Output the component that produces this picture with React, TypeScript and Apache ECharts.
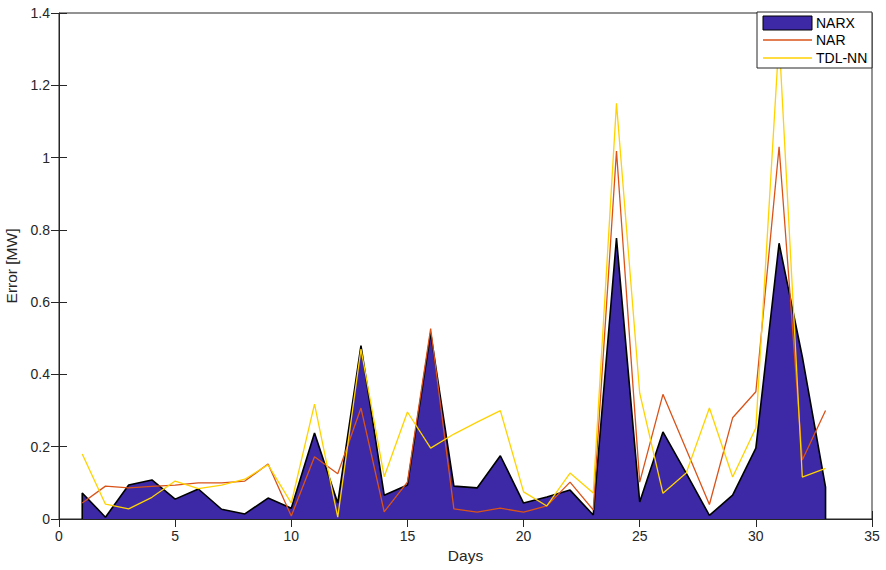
import React, { useEffect, useRef } from "react";
import * as echarts from "echarts";

const days = [1, 2, 3, 4, 5, 6, 7, 8, 9, 10, 11, 12, 13, 14, 15, 16, 17, 18, 19, 20, 21, 22, 23, 24, 25, 26, 27, 28, 29, 30, 31, 32, 33];
const narx = [0.072, 0.005, 0.094, 0.108, 0.055, 0.083, 0.027, 0.014, 0.058, 0.03, 0.238, 0.044, 0.48, 0.066, 0.094, 0.515, 0.091, 0.086, 0.175, 0.044, 0.061, 0.08, 0.011, 0.777, 0.047, 0.241, 0.127, 0.01, 0.066, 0.196, 0.763, 0.449, 0.088];
const nar = [0.044, 0.091, 0.086, 0.09, 0.094, 0.1, 0.1, 0.105, 0.152, 0.008, 0.172, 0.125, 0.307, 0.02, 0.102, 0.527, 0.028, 0.019, 0.03, 0.019, 0.036, 0.102, 0.025, 1.018, 0.102, 0.345, 0.193, 0.04, 0.28, 0.352, 1.03, 0.163, 0.3];
const tdl = [0.18, 0.041, 0.028, 0.06, 0.105, 0.084, 0.094, 0.11, 0.15, 0.044, 0.318, 0.005, 0.47, 0.117, 0.296, 0.196, 0.235, 0.268, 0.3, 0.075, 0.036, 0.127, 0.072, 1.15, 0.348, 0.071, 0.127, 0.307, 0.116, 0.252, 1.33, 0.116, 0.14];
const seriesNames = ["NARX", "NAR", "TDL-NN"];
const xLabel = "Days";
const yLabel = "Error [MW]";

const COLORS = { narx: "#3D28A5", nar: "#D95319", tdl: "#FFD200" };
const FONT = "Liberation Sans, Arial, Helvetica, sans-serif";
const TXT = "#262626";

export default function App() {
  const ref = useRef<HTMLDivElement>(null);
  useEffect(() => {
    if (!ref.current) return;
    const chart = echarts.init(ref.current, undefined, { renderer: "svg" });
    const pairs = (ys: number[]) => days.map((d, i) => [d, ys[i]]);
    const narxOutline = [[days[0], 0], ...pairs(narx), [days[days.length - 1], 0]];
    const tickStyle = { show: true, inside: true, length: 8, lineStyle: { color: TXT, width: 1 } };
    const lx = 757, ly = 12;
    const Z = 100;
    chart.setOption({
      animation: false,
      grid: {
        left: 59, right: 14, top: 13, bottom: 51, show: true, borderColor: TXT, borderWidth: 1,
        backgroundColor: "transparent", containLabel: false, outerBoundsMode: "none",
      },
      xAxis: [
        {
          type: "value", min: 0, max: 35, interval: 5, position: "bottom",
          name: xLabel, nameLocation: "middle", nameGap: 28,
          nameTextStyle: { fontFamily: FONT, fontSize: 15.5, color: TXT },
          axisLine: { show: true, lineStyle: { color: TXT } },
          axisTick: tickStyle,
          axisLabel: { fontFamily: FONT, fontSize: 14, color: TXT, margin: 10 },
          splitLine: { show: false },
        },
        {
          type: "value", min: 0, max: 35, interval: 5, position: "top",
          axisLine: { show: false }, axisTick: tickStyle, axisLabel: { show: false }, splitLine: { show: false },
        },
      ],
      yAxis: [
        {
          type: "value", min: 0, max: 1.4, interval: 0.2, position: "left",
          name: yLabel, nameLocation: "middle", nameGap: 34,
          nameTextStyle: { fontFamily: FONT, fontSize: 15.5, color: TXT },
          axisLine: { show: true, lineStyle: { color: TXT } },
          axisTick: tickStyle,
          axisLabel: { fontFamily: FONT, fontSize: 14, color: TXT, margin: 9 },
          splitLine: { show: false },
        },
        {
          type: "value", min: 0, max: 1.4, interval: 0.2, position: "right",
          axisLine: { show: false }, axisTick: tickStyle, axisLabel: { show: false }, splitLine: { show: false },
        },
      ],
      series: [
        {
          name: seriesNames[0], type: "line", xAxisIndex: 0, yAxisIndex: 0, data: narxOutline, symbol: "none",
          lineStyle: { color: "#000", width: 1.6 }, areaStyle: { color: COLORS.narx, opacity: 1 }, z: 2,
        },
        {
          name: seriesNames[1], type: "line", xAxisIndex: 0, yAxisIndex: 0, data: pairs(nar), symbol: "none",
          lineStyle: { color: COLORS.nar, width: 1.3 }, z: 3,
        },
        {
          name: seriesNames[2], type: "line", xAxisIndex: 0, yAxisIndex: 0, data: pairs(tdl), symbol: "none",
          lineStyle: { color: COLORS.tdl, width: 1.3 }, z: 4,
        },
      ],
      graphic: [
        { type: "rect", z: Z, shape: { x: lx, y: ly, width: 115, height: 56 }, style: { fill: "#fff", stroke: TXT, lineWidth: 1 } },
        { type: "rect", z: Z + 1, shape: { x: lx + 6, y: ly + 4, width: 49, height: 14 }, style: { fill: COLORS.narx, stroke: "#000", lineWidth: 1 } },
        { type: "line", z: Z + 1, shape: { x1: lx + 6, y1: ly + 28, x2: lx + 55, y2: ly + 28 }, style: { stroke: COLORS.nar, lineWidth: 1.3 } },
        { type: "line", z: Z + 1, shape: { x1: lx + 6, y1: ly + 46, x2: lx + 55, y2: ly + 46 }, style: { stroke: COLORS.tdl, lineWidth: 1.3 } },
        { type: "text", z: Z + 1, x: lx + 59, y: ly + 11, style: { text: seriesNames[0], fill: "#000", font: `14px ${FONT}`, verticalAlign: "middle" } },
        { type: "text", z: Z + 1, x: lx + 59, y: ly + 28, style: { text: seriesNames[1], fill: "#000", font: `14px ${FONT}`, verticalAlign: "middle" } },
        { type: "text", z: Z + 1, x: lx + 59, y: ly + 46, style: { text: seriesNames[2], fill: "#000", font: `14px ${FONT}`, verticalAlign: "middle" } },
      ],
    });
    return () => chart.dispose();
  }, []);
  return <div ref={ref} style={{ position: "absolute", left: 0, top: 0, width: 886, height: 570, background: "#fff" }} />;
}
